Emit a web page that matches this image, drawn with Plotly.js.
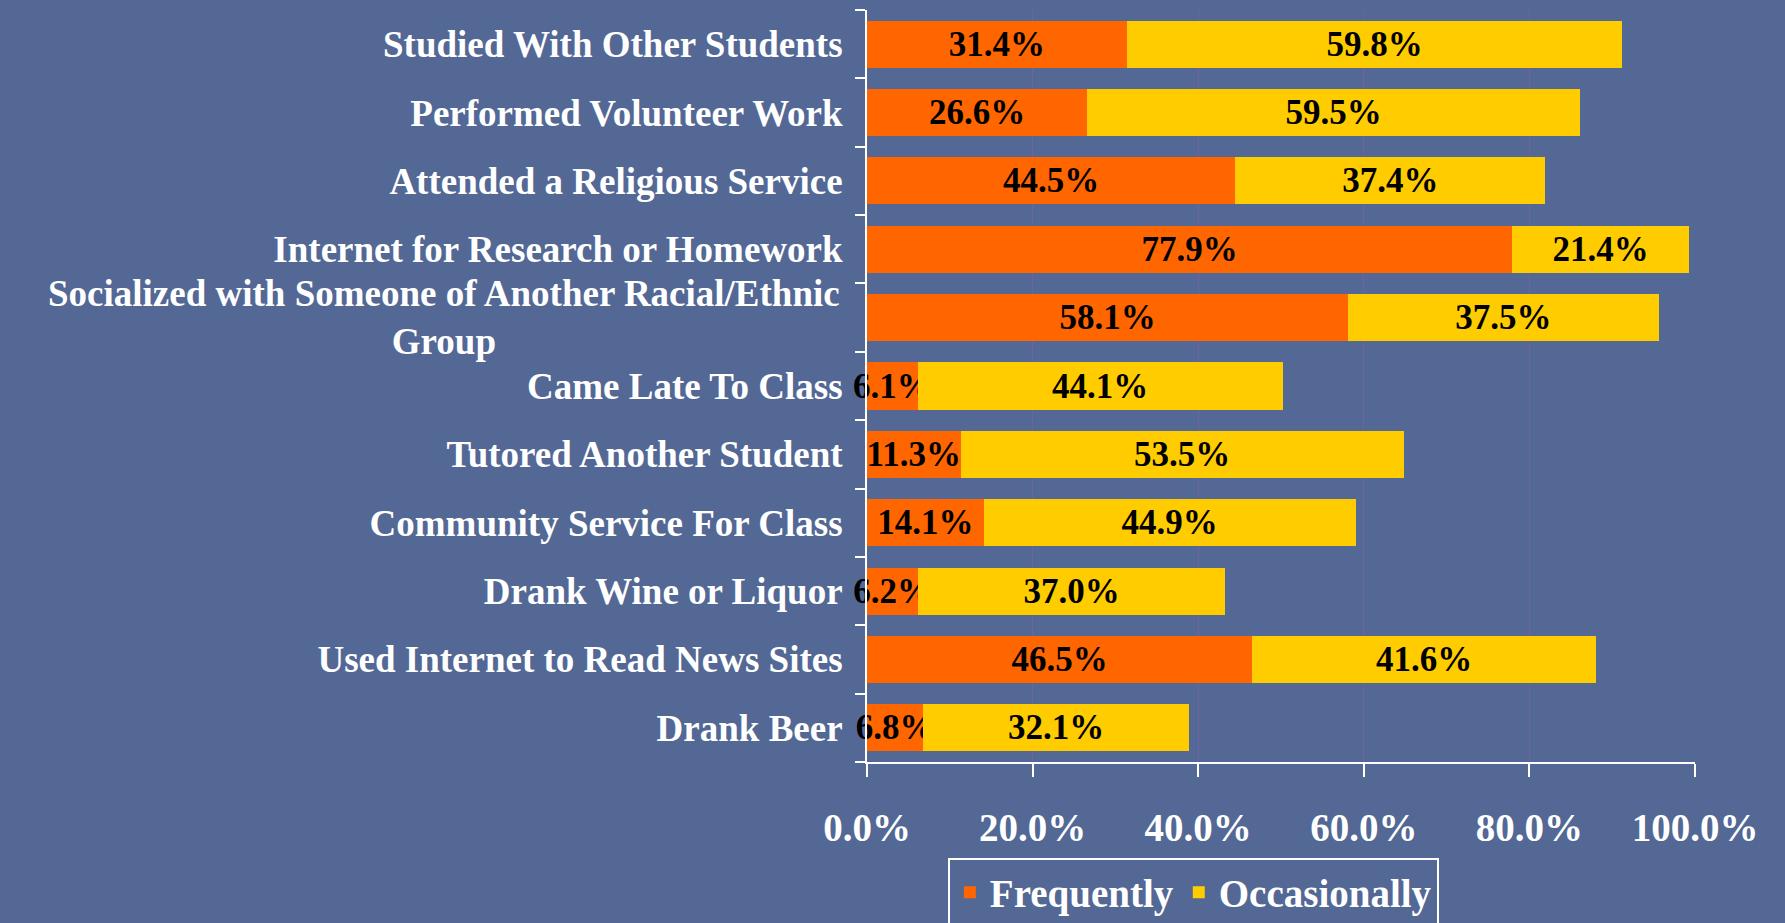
<!DOCTYPE html>
<html>
<head>
<meta charset="utf-8">
<script src="https://cdn.plot.ly/plotly-3.0.1.min.js"></script>
<style>
html,body{margin:0;padding:0;background:#536895;}
#chart{width:1785px;height:923px;}
</style>
</head>
<body>
<div id="chart"></div>
<script>
const categories = [
  "Studied With Other Students",
  "Performed Volunteer Work",
  "Attended a Religious Service",
  "Internet for Research or Homework",
  "Socialized with Someone of Another Racial/Ethnic Group",
  "Came Late To Class",
  "Tutored Another Student",
  "Community Service For Class",
  "Drank Wine or Liquor",
  "Used Internet to Read News Sites",
  "Drank Beer"
];
const frequently = [31.4, 26.6, 44.5, 77.9, 58.1, 6.1, 11.3, 14.1, 6.2, 46.5, 6.8];
const occasionally = [59.8, 59.5, 37.4, 21.4, 37.5, 44.1, 53.5, 44.9, 37.0, 41.6, 32.1];
const xTicks = [0, 20, 40, 60, 80, 100];

const FONT = "Liberation Serif, Times New Roman, serif";
const wrapped = "Socialized with Someone of Another Racial/Ethnic<br>Group";
const tickText = categories.map(c => c.startsWith("Socialized") ? "" : c);

const traces = [
  {
    type: "bar", orientation: "h", name: "Frequently",
    y: categories, x: frequently,
    marker: {color: "#FF6600"},
    text: frequently.map(v => v.toFixed(1) + "%"),
    textposition: "inside", insidetextanchor: "middle", cliponaxis: false,
    textfont: {family: FONT, size: 35, color: "#000000", weight: "bold"},
    hoverinfo: "skip"
  },
  {
    type: "bar", orientation: "h", name: "Occasionally",
    y: categories, x: occasionally,
    marker: {color: "#FFCC00"},
    text: occasionally.map(v => v.toFixed(1) + "%"),
    textposition: "inside", insidetextanchor: "middle", cliponaxis: false,
    textfont: {family: FONT, size: 35, color: "#000000", weight: "bold"},
    hoverinfo: "skip"
  }
];

const layout = {
  width: 1785, height: 923,
  paper_bgcolor: "#536895", plot_bgcolor: "#536895",
  margin: {l: 867, r: 90, t: 10, b: 161, autoexpand: false},
  barmode: "stack", bargap: 0.31,
  font: {family: FONT, color: "#FFFFFF", size: 35, weight: "bold"},
  uniformtext: {mode: "show", minsize: 35},
  showlegend: true,
  legend: {
    orientation: "h", xref: "container", yref: "container",
    x: 0.531, xanchor: "left", y: 0.07, yanchor: "top",
    bordercolor: "#FFFFFF", borderwidth: 2, bgcolor: "rgba(0,0,0,0)",
    font: {family: FONT, size: 39, color: "#FFFFFF", weight: "bold"},
    traceorder: "normal", itemwidth: 30
  },
  xaxis: {
    range: [0, 100], tickvals: xTicks,
    ticktext: xTicks.map(v => v.toFixed(1) + "%"),
    showgrid: true, gridcolor: "rgba(130,95,170,0.55)", gridwidth: 1,
    zeroline: false,
    showline: true, linecolor: "#FFFFFF", linewidth: 2,
    ticks: "outside", ticklen: 13, tickcolor: "#FFFFFF", tickwidth: 2,
    ticklabelstandoff: 17,
    tickfont: {family: FONT, size: 39, color: "#FFFFFF", weight: "bold"},
    fixedrange: true
  },
  yaxis: {
    type: "category", autorange: "reversed",
    tickvals: categories, ticktext: tickText,
    showgrid: false, zeroline: false,
    showline: true, linecolor: "#FFFFFF", linewidth: 2,
    ticks: "outside", ticklen: 10, tickcolor: "#FFFFFF", tickwidth: 2,
    tickson: "boundaries",
    ticklabelstandoff: 15,
    tickfont: {family: FONT, size: 37, color: "#FFFFFF", weight: "bold"},
    fixedrange: true
  },
  annotations: [{
    xref: "paper", yref: "y", x: 0, y: categories[4],
    xshift: -25, xanchor: "right", yanchor: "middle", align: "center",
    text: wrapped, showarrow: false,
    font: {family: FONT, size: 37, color: "#FFFFFF", weight: "bold"}
  }]
};

Plotly.newPlot("chart", traces, layout, {displayModeBar: false, staticPlot: true});
</script>
</body>
</html>
